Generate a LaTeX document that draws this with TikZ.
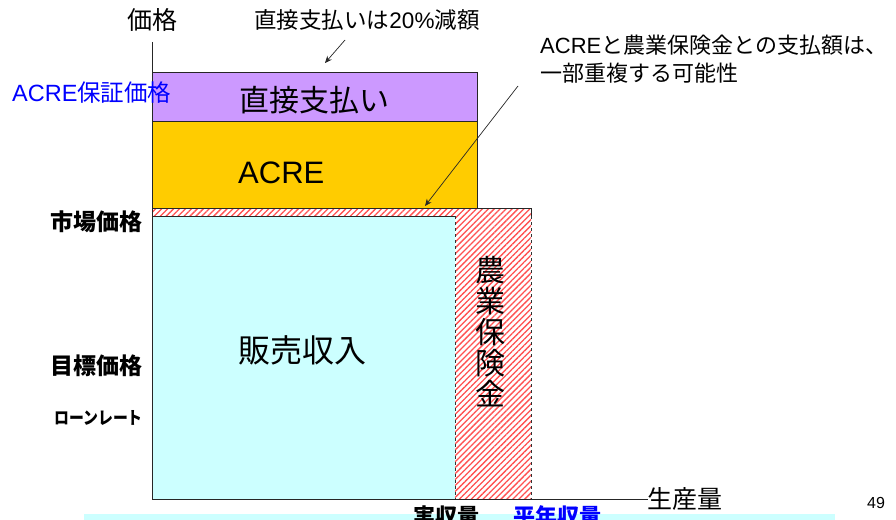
\documentclass[tikz,border=0pt]{standalone}
\usepackage{fontspec}
\setmainfont{Noto Sans CJK JP}
\newfontfamily\latinfont{Liberation Sans}
\usetikzlibrary{patterns.meta,arrows.meta}
\definecolor{cyanfill}{HTML}{CCFFFF}
\definecolor{purplefill}{HTML}{CC99FF}
\definecolor{yellowfill}{HTML}{FFCC00}
\definecolor{hatchred}{HTML}{FF5050}
\newcommand{\lat}[1]{{\latinfont #1}}
\tikzset{
  boxline/.style={draw=black!85, line width=0.9pt},
  hatchbox/.style={pattern={Lines[angle=45,distance=4.2pt,line width=1.3pt]}, pattern color=hatchred},
  lbl/.style={inner sep=0pt, font=\fontsize{21}{24}\selectfont},
  biglbl/.style={inner sep=0pt, font=\fontsize{30}{32}\selectfont},
  sidelbl/.style={inner sep=0pt, anchor=east, font=\bfseries\fontsize{23}{24}\selectfont},
  callout/.style={-{Stealth[length=7pt,width=6pt]}, line width=0.7pt, black!85},
}
\begin{document}
\begin{tikzpicture}[x=1pt,y=-1pt]
\useasboundingbox (0,0) rectangle (896,519);
\clip (0,0) rectangle (896,519);
% bottom band
\fill[cyanfill] (84,514) rectangle (835,530);
% boxes
\path[fill=purplefill, boxline] (152,72) rectangle (477,121);
\path[fill=yellowfill, boxline] (152,121) rectangle (477,208);
\fill[white] (152,208) rectangle (531,216);
\path[hatchbox, boxline] (152,208) rectangle (531,216);
\path[fill=cyanfill, boxline] (152,216) rectangle (455,499);
\fill[white] (455,216) rectangle (531,499);
\path[hatchbox] (455,216) rectangle (531,499);
\draw[black!80, line width=0.8pt, dashed] (455,216) -- (455,499);
\draw[black!80, line width=0.8pt, dashed] (531,216) -- (531,499);
% axes
\draw[black!85, line width=0.9pt] (152,42) -- (152,499) -- (648,499);
% labels
\node[lbl, font=\fontsize{25}{28}\selectfont] (kakaku) at (152,20) {価格};
\node[lbl, font=\fontsize{22.5}{24}\selectfont] (direduce) at (367,20) {直接支払いは\lat{20\%}減額};
\node[lbl, anchor=west, font=\fontsize{22}{28}\selectfont] (overlap1) at (540,45) {\lat{ACRE}と農業保険金との支払額は、};
\node[lbl, anchor=west, font=\fontsize{22}{28}\selectfont] (overlap2) at (540,73) {一部重複する可能性};
\node[lbl, anchor=west, text=blue, font=\fontsize{23.5}{26}\selectfont] (acreguar) at (12,93) {\lat{ACRE}保証価格};
\node[biglbl] (direct) at (314,100) {直接支払い};
\node[biglbl, anchor=west, font=\latinfont\fontsize{31}{32}\selectfont] (acre) at (238,173) {ACRE};
\node[biglbl, font=\fontsize{32}{34}\selectfont] (sales) at (302,350) {販売収入};
\node[biglbl, align=center, font=\fontsize{30}{31}\selectfont] (insur) at (490,332) {農\\業\\保\\険\\金};
\node[sidelbl] (market) at (143,222) {市場価格};
\node[sidelbl] (target) at (143,366) {目標価格};
\node[sidelbl, font=\bfseries\fontsize{17.5}{20}\selectfont, xscale=0.85] (loan) at (143,418) {ローンレート};
\node[lbl, font=\fontsize{25}{26}\selectfont, anchor=west] (prod) at (647,499) {生産量};
\node[lbl, font=\latinfont\fontsize{16}{18}\selectfont] (page) at (876,503) {49};
\node[lbl, font=\bfseries\fontsize{22}{24}\selectfont] (actual) at (446,516) {実収量};
\node[lbl, text=blue, font=\bfseries\fontsize{22}{24}\selectfont] (normal) at (557,516) {平年収量};
% callouts
\coordinate (a1s) at (345,40);
\coordinate (a1e) at (325,63);
\coordinate (a2s) at (518,86);
\coordinate (a2e) at (425,206);
\draw[callout] (a1s) -- (a1e);
\draw[callout] (a2s) -- (a2e);
\end{tikzpicture}
\end{document}
